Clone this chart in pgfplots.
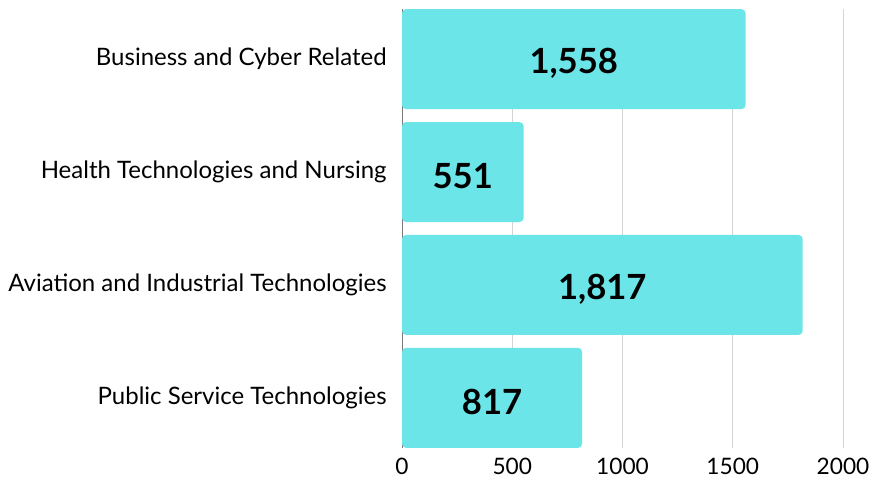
\documentclass[border=0pt]{standalone}
\usepackage{pgfplots}
\pgfplotsset{compat=1.18}
\usepackage{pgfplotstable}
\usepackage{fontspec}
\setmainfont{Lato}
\definecolor{barc}{HTML}{6BE5E8}
\definecolor{gridc}{HTML}{D4D4D4}
\definecolor{axc}{HTML}{7A7A7A}
\pgfplotstableread{
y v lab
0 1558 1,558
1 551 551
2 1817 1,817
3 817 817
}\datatable
\begin{document}
\begin{tikzpicture}
\begin{axis}[
  scale only axis, width=330.75pt, height=329.25pt,
  xmin=0, xmax=2000, ymin=-0.444, ymax=3.444, y dir=reverse,
  ytick={0,1,2,3},
  yticklabels={Business and Cyber Related, Health Technologies and Nursing, Aviation and Industrial Technologies, Public Service Technologies},
  xtick={0,500,1000,1500,2000},
  xmajorgrids, grid style={gridc, line width=0.75pt},
  axis line style={draw=none}, major tick length=0pt,
  yticklabel style={font=\fontsize{18}{22}\selectfont, xshift=-8pt},
  xticklabel style={font=\fontsize{17}{20}\selectfont, yshift=-4pt},
  /pgf/number format/assume math mode=true,
  /pgf/number format/1000 sep={},
  clip=false,
]
\addplot[axc, line width=0.75pt, forget plot] coordinates {(0,-0.444) (0,3.444)};
\addplot[xbar, bar width=75pt, fill=barc, draw=none, rounded corners=3pt, forget plot] table[x=v, y=y] {\datatable};
\addplot[draw=none, forget plot, nodes near coords, point meta=explicit symbolic,
  nodes near coords style={anchor=center, yshift=-3pt, font=\fontsize{26}{30}\selectfont\bfseries, text=black}]
  table[x expr=\thisrow{v}/2, y=y, meta=lab] {\datatable};
\coordinate (bl) at (axis description cs:-0.9116,-0.0774);
\coordinate (tr) at (axis description cs:1.0703,1.0205);
\end{axis}
\path (bl) rectangle (tr);
\end{tikzpicture}
\end{document}
